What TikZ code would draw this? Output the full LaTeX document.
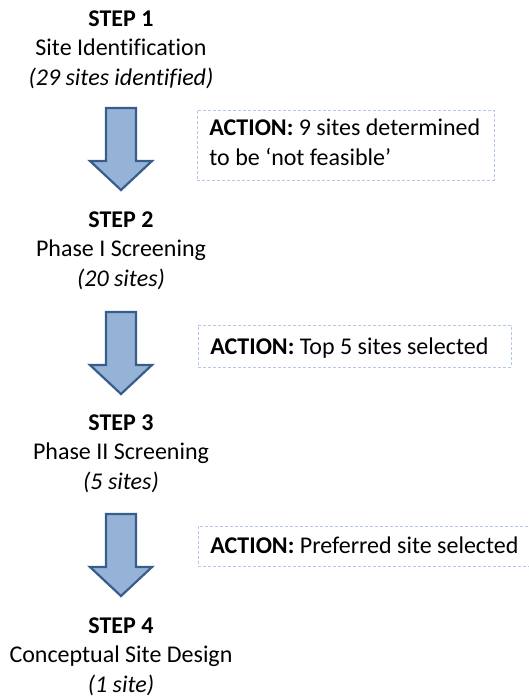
\documentclass[tikz,border=0pt]{standalone}
\usepackage{fontspec}
\setmainfont{Carlito}[Ligatures={TeX,NoCommon}]
\usepackage{tikz}
\usetikzlibrary{arrows,shapes}
\definecolor{arrowfill}{RGB}{149,179,215}
\definecolor{arrowline}{RGB}{56,93,138}
\definecolor{boxline}{RGB}{180,199,231}
\tikzstyle{stepnode}=[align=center,inner sep=0pt,anchor=base,font=\fontsize{24}{29.5}\selectfont]
\tikzstyle{actionbox}=[draw=boxline,dash pattern=on 3pt off 2pt,line width=0.8pt,fill=white,anchor=north west,align=flush left,inner xsep=12pt,inner ysep=0pt,font=\fontsize{24}{30}\selectfont]
\tikzstyle{blockarrow}=[draw=arrowline,fill=arrowfill,line width=2.2pt,line join=miter]

\begin{document}
\begin{tikzpicture}[x=1pt,y=-1pt]
        \clip (0,0) rectangle (529,696);
        % steps (anchored at the last baseline)
        \node[stepnode] (step1) at (121,85) {\textbf{STEP 1}\\Site Identification\\\textit{(29 sites identified)}};
        \node[stepnode] (step2) at (121,286) {\textbf{STEP 2}\\Phase I Screening\\\textit{(20 sites)}};
        \node[stepnode] (step3) at (121,489) {\textbf{STEP 3}\\Phase II Screening\\\textit{(5 sites)}};
        \node[stepnode] (step4) at (121,692) {\textbf{STEP 4}\\Conceptual Site Design\\\textit{(1 site)}};
        % block arrows
        \foreach \y [count=\i] in {108,312,514} {
          \coordinate (top\i) at (121,\y);
          \draw[blockarrow] (top\i) ++(-15,0) -- ++(30,0) -- ++(0,53) -- ++(16,0) -- ++(-31,29) -- ++(-31,-29) -- ++(16,0) -- cycle;
        }
        % actions
        \node[actionbox,minimum width=297pt,text width=273pt,minimum height=70pt] (action1) at (197,110) {\rule{0pt}{20pt}\textbf{ACTION:} 9~sites~determined\\to be ‘not feasible’\rule[-10pt]{0pt}{10pt}};
        \node[actionbox,minimum width=313pt,text width=289pt,minimum height=42pt] (action2) at (198,325) {\rule[-4pt]{0pt}{24pt}\textbf{ACTION:} Top 5 sites selected};
        \node[actionbox,minimum width=340pt,text width=316pt,minimum height=40pt] (action3) at (198,526) {\rule[-6pt]{0pt}{26pt}\textbf{ACTION:} Preferred site selected};
      \end{tikzpicture}
\end{document}
